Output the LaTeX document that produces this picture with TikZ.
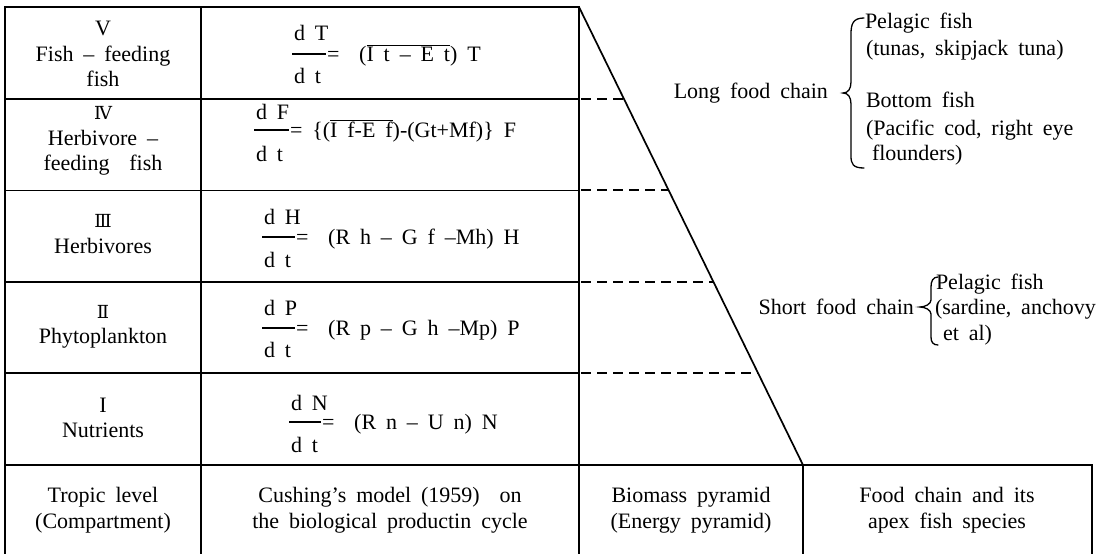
\documentclass[tikz,border=0pt]{standalone}
\usepackage{fontspec}
\setmainfont{Liberation Serif}
\newfontfamily\numfont{DejaVu Serif}
\newcommand\mytxt{\fontsize{22}{25.5}\selectfont\spaceskip=.45em plus .1em minus .1em\relax}
\newcommand\mynum{\numfont\fontsize{18}{25.5}\selectfont}
\newcommand\ovl[1]{\ensuremath{\overline{\hbox{#1}}}}
\begin{document}
\begin{tikzpicture}[x=1pt,y=-1pt,
  every node/.style={inner sep=0pt, outer sep=0pt, font=\mytxt},
  grid/.style={line width=1.8pt, line cap=rect},
  dashline/.style={line width=2pt, dash pattern=on 10pt off 6pt},
  fracbar/.style={line width=1.3pt},
  bracepath/.style={line width=1.3pt, line cap=round},
  lbl/.style={align=center},
  txtw/.style={anchor=base west}
]
\useasboundingbox (0,0) rectangle (1117,554);

% ---------- table frame ----------
\coordinate (TL) at (5,7);
\coordinate (TR) at (579,7);
\coordinate (apex) at (803,465);
\draw[grid] (5,554) -- (TL) -- (TR);
\draw[line width=1.7pt] (TR) -- (apex);
\draw[grid] (201,7) -- (201,554);
\draw[grid] (579,7) -- (579,554);
\draw[grid] (5,465) -- (1092,465) -- (1092,554);
\draw[grid] (803,465) -- (803,554);

% row separators and dashed extensions to the pyramid side
\foreach \yy/\xx in {99.2/624.1, 190.4/668.7, 281.6/713.3, 372.8/757.9}{
  \draw[grid] (5,\yy) -- (579,\yy);
  \draw[dashline] (581,\yy) -- (\xx,\yy);
}

% ---------- first column ----------
\node[lbl] (lv)   at (103,54)  {V\\Fish -- feeding\\fish};
\node[lbl] (liv)  at (103,141) {{\mynum Ⅳ}\\Herbivore --\\feeding~ fish};
\node[lbl] (liii) at (103,234) {{\mynum Ⅲ}\\Herbivores};
\node[lbl] (lii)  at (103,327) {{\mynum Ⅱ}\\Phytoplankton};
\node[lbl] (li)   at (103,418) {I\\Nutrients};

% ---------- equations ----------
% row V
\node[txtw] (nV) at (294,40) {d T};
\draw[fracbar] (292,54) -- (326,54);
\node[txtw] (rV) at (327,61) {=~ (\ovl{I t -- E t}) T};
\node[txtw] (dV) at (294,83) {d t};
% row IV
\node[txtw] (nIV) at (256,119) {d F};
\draw[fracbar] (254,130) -- (289,130);
\node[txtw] (rIV) at (290,137) {= \{(\ovl{I f-E f})-(Gt+Mf)\} F};
\node[txtw] (dIV) at (256,161) {d t};
% row III
\node[txtw] (nIII) at (264,224) {d H};
\draw[fracbar] (262,237) -- (295,237);
\node[txtw] (rIII) at (296,244) {=~ (R h -- G f --Mh) H};
\node[txtw] (dIII) at (264,267) {d t};
% row II
\node[txtw] (nII) at (264,315) {d P};
\draw[fracbar] (262,328) -- (295,328);
\node[txtw] (rII) at (296,335) {=~ (R p -- G h --Mp) P};
\node[txtw] (dII) at (264,357) {d t};
% row I
\node[txtw] (nI) at (291,410) {d N};
\draw[fracbar] (289,422) -- (321,422);
\node[txtw] (rI) at (322,429) {=~ (R n -- U n) N};
\node[txtw] (dI) at (291,452) {d t};

% ---------- bottom row ----------
\node[lbl] (b1) at (103,510) {Tropic level\\(Compartment)};
\node[lbl] (b2) at (390,510) {Cushing's model (1959)~ on\\the biological productin cycle};
\node[lbl] (b3) at (691,510) {Biomass pyramid\\(Energy pyramid)};
\node[lbl] (b4) at (947,510) {Food chain and its\\apex fish species};

% ---------- right side: long food chain ----------
\node[anchor=east] (long) at (828,93) {Long food chain};
\draw[bracepath] (864,18) .. controls (853,18) and (851,24) .. (851,34)
  -- (851,82) .. controls (851,89) and (848,93) .. (843,93)
  .. controls (848,93) and (851,97) .. (851,104)
  -- (851,156) .. controls (851,164) and (853,168) .. (864,168);
\node[txtw] (p1) at (865,28)  {Pelagic fish};
\node[txtw] (p2) at (866,55)  {(tunas, skipjack tuna)};
\node[txtw] (p3) at (866,107) {Bottom fish};
\node[txtw] (p4) at (866,135) {(Pacific cod, right eye};
\node[txtw] (p5) at (872,160) {flounders)};

% ---------- right side: short food chain ----------
\node[anchor=east] (short) at (914,307) {Short food chain};
\draw[bracepath] (938,277) .. controls (933,277) and (931,281) .. (931,287)
  -- (931,300) .. controls (931,304) and (925,307) .. (920,307)
  .. controls (925,307) and (931,310) .. (931,314)
  -- (931,337) .. controls (931,342) and (933,345) .. (938,345);
\node[txtw] (s1) at (936,289) {Pelagic fish};
\node[txtw] (s2) at (935,314) {(sardine, anchovy};
\node[txtw] (s3) at (943,340) {et al)};
\end{tikzpicture}
\end{document}
